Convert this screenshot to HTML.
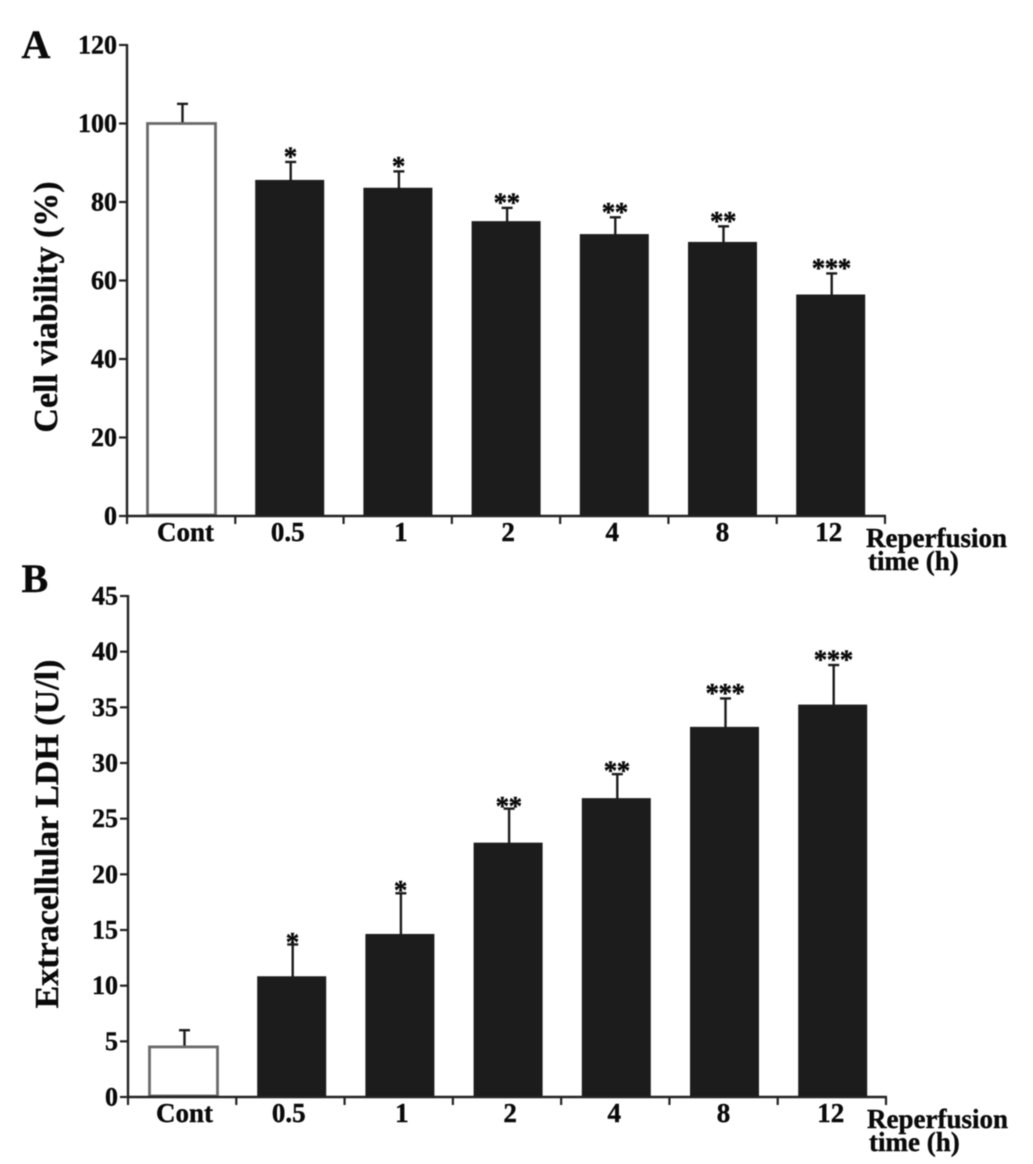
<!DOCTYPE html>
<html>
<head>
<meta charset="utf-8">
<title>Cell viability and extracellular LDH</title>
<style>
html,body{margin:0;padding:0;background:#fff;}
svg{display:block;filter:blur(0.4px);}
text{font-family:"Liberation Serif",serif;font-weight:bold;fill:#0a0a0a;stroke:#0a0a0a;stroke-width:0.4px;}
</style>
</head>
<body>
<svg id="figure" width="1033" height="1164" viewBox="0 0 1033 1164" xmlns="http://www.w3.org/2000/svg">
<rect x="0" y="0" width="1033" height="1164" fill="#fff"/>
<text x="21.5" y="58" font-size="40">A</text>
<text x="21.5" y="592" font-size="40">B</text>
<text transform="translate(57,307) rotate(-90)" text-anchor="middle" font-size="34">Cell viability (%)</text>
<text transform="translate(58,834) rotate(-90)" text-anchor="middle" font-size="34">Extracellular LDH (U/l)</text>
<text x="866" y="547" font-size="27">Reperfusion</text>
<text x="868" y="570" font-size="27">time (h)</text>
<text x="867" y="1128" font-size="27">Reperfusion</text>
<text x="869" y="1151" font-size="27">time (h)</text>
</svg>
<script>
const categories = ["Cont", "0.5", "1", "2", "4", "8", "12"];
const viabilityValues = [100, 85.5, 83.5, 75, 71.7, 69.7, 56.3];
const viabilityErrorTops = [105, 90.2, 87.8, 78.5, 76.1, 73.8, 61.8];
const viabilityStars = ["", "*", "*", "**", "**", "**", "***"];
const viabilityTicks = [0, 20, 40, 60, 80, 100, 120];
const ldhValues = [4.5, 10.8, 14.6, 22.8, 26.8, 33.2, 35.2];
const ldhErrorTops = [6, 13.7, 18.3, 25.9, 29, 35.8, 38.8];
const ldhStars = ["", "*", "*", "**", "**", "***", "***"];
const ldhTicks = [0, 5, 10, 15, 20, 25, 30, 35, 40, 45];

const NS = "http://www.w3.org/2000/svg";
const svg = document.getElementById("figure");

function make(tag, attrs, parent) {
  const el = document.createElementNS(NS, tag);
  for (const k in attrs) el.setAttribute(k, attrs[k]);
  parent.appendChild(el);
  return el;
}

function drawPanel(p, values, errorTops, stars, ticks) {
  const group = make("g", {}, svg);
  
  
  const maxTick = ticks[ticks.length - 1];
  const yScale = v => p.y0 - (v / maxTick) * (p.y0 - p.yTop);
  const step = (p.xEnd - p.x0) / categories.length;
  const xCenter = i => p.barStart + p.barWidth / 2 + i * p.barStep;

  values.forEach((v, i) => {
    const cx = xCenter(i);
    const top = yScale(v);
    const errTop = yScale(errorTops[i]);
    const err = make("line", {x1: cx + 1, x2: cx + 1, y1: top, y2: errTop, stroke: "#1c1c1c", "stroke-width": 2.4}, group);
    
    
    const cap = make("line", {x1: cx - 4.5, x2: cx + 6.5, y1: errTop, y2: errTop, stroke: "#1c1c1c", "stroke-width": 2.4}, group);
    
    
    const filled = i > 0;
    const bar = make("rect", {
      x: p.barStart + i * p.barStep,
      y: top,
      width: p.barWidth,
      height: p.y0 - top - (filled ? 0 : 1),
      fill: filled ? "#1c1c1c" : "#fff",
      stroke: filled ? "#1c1c1c" : "#6a6a6a",
      "stroke-width": filled ? 1 : 2.8
    }, group);
    
    
    if (stars[i]) {
      const star = make("text", {x: cx + 0.5, y: errTop + 13.5 - p.starLift[i], "text-anchor": "middle", "font-size": 27, "letter-spacing": -0.5, fill: "#222"}, group);
      
      
      star.textContent = stars[i];
    }
    const label = make("text", {x: cx + p.labelShift[i], y: p.labelY, "text-anchor": "middle", "font-size": 27}, group);
    
    
    label.textContent = categories[i];
  });

  const yAxis = make("line", {x1: p.x0, x2: p.x0, y1: p.yTop - 1, y2: p.y0 + 1, stroke: "#222", "stroke-width": 2.4}, group);
  
  
  const xAxis = make("line", {x1: p.x0 - 1, x2: p.xEnd + 1, y1: p.y0, y2: p.y0, stroke: "#222", "stroke-width": 2.4}, group);
  
  

  ticks.forEach(t => {
    const y = yScale(t);
    const tick = make("line", {x1: p.x0 - 8, x2: p.x0, y1: y, y2: y, stroke: "#222", "stroke-width": 2.2}, group);
    
    
    const label = make("text", {x: p.x0 - 10, y: y + 8.5, "text-anchor": "end", "font-size": 26}, group);
    
    
    label.textContent = t;
  });

  for (let i = 0; i <= categories.length; i++) {
    const x = p.x0 + i * step;
    const tick = make("line", {x1: x, x2: x, y1: p.y0, y2: p.y0 + 8, stroke: "#222", "stroke-width": 2.2}, group);
    
    
  }
}

drawPanel(
  {id: "a", x0: 127, xEnd: 885, y0: 516, yTop: 45, barStart: 147.5, barWidth: 68, barStep: 108.2, labelY: 541, labelShift: [4, -2, 3, 2, -2, 0, -2], starLift: [10, 10, 10, 10, 10, 10, 10]},
  viabilityValues, viabilityErrorTops, viabilityStars, viabilityTicks
);
drawPanel(
  {id: "b", x0: 128, xEnd: 886, y0: 1097, yTop: 596, barStart: 149.5, barWidth: 68, barStep: 108.2, labelY: 1122, labelShift: [1, -3, 2, 2, -2, -1, -2], starLift: [10, 7, 8, 7, 8, 10, 10]},
  ldhValues, ldhErrorTops, ldhStars, ldhTicks
);
</script>
</body>
</html>
